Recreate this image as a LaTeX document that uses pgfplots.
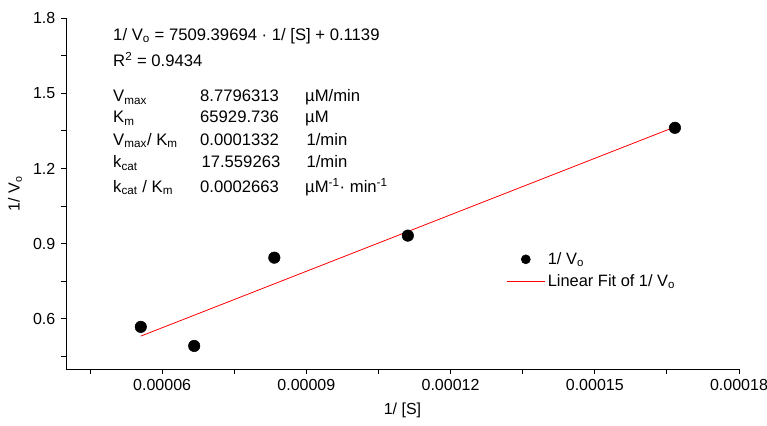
\documentclass[border=0pt]{standalone}
\usepackage{fontspec}
\setmainfont{Liberation Sans}
\usepackage{pgfplots}
\pgfplotsset{compat=1.18}
\tikzset{txt/.style={anchor=base west, inner sep=0pt, font=\fontsize{12.5}{14}\selectfont}}
\begin{document}
\begin{tikzpicture}
\fontsize{12}{14}\selectfont
\begin{axis}[
  scale only axis,
  width=504.75pt, height=263.25pt,
  xmin=0.00004, xmax=0.00018,
  ymin=0.4, ymax=1.8,
  axis lines=left,
  axis line style={-, line width=0.6pt},
  tick align=outside,
  tick style={black, line width=0.6pt},
  major tick length=3.8pt,
  minor tick length=3.8pt,
  scaled x ticks=false,
  scaled y ticks=false,
  /pgf/number format/assume math mode=true,
  xtick={0.00006,0.00009,0.00012,0.00015,0.00018},
  xticklabels={0.00006,0.00009,0.00012,0.00015,0.00018},
  minor xtick={0.000045,0.000075,0.000105,0.000135,0.000165},
  ytick={0.6,0.9,1.2,1.5,1.8},
  yticklabels={0.6,0.9,1.2,1.5,1.8},
  minor ytick={0.45,0.75,1.05,1.35,1.65},
  tick label style={font=\fontsize{12}{14}\selectfont},
  xlabel={1/ [S]},
  ylabel={1/ V\textsubscript{o}},
  label style={font=\fontsize{12}{14}\selectfont},
  xlabel style={at={(rel axis cs:0.5,-0.117)}, anchor=center},
  ylabel style={at={(rel axis cs:-0.0758,0.5)}, anchor=center, rotate=0},
  legend style={draw=none, fill=none, at={(rel axis cs:0.652,0.345)}, anchor=north west,
    font=\fontsize{12.3}{14}\selectfont, row sep=2pt, inner sep=1pt},
  legend cell align=left,
  clip=false,
]
\addplot[only marks, mark=*, mark size=4.3pt, black,
  legend image code/.code={\draw[mark repeat=2,mark phase=2,mark size=3.4pt] plot coordinates {(0pt,0pt)(14.25pt,0pt)(28.5pt,0pt)};}]
  coordinates {
  (0.000055556,0.568)
  (0.000066667,0.492)
  (0.000083333,0.844)
  (0.00011111,0.932)
  (0.00016667,1.362)
  };
\addlegendentry{1/ V\textsubscript{o}}
\addplot[red, line width=0.6pt, no marks,
  legend image code/.code={\draw (0pt,0pt) -- (28.5pt,0pt);}]
  coordinates {
  (0.000055556,0.5311)
  (0.00016667,1.3655)
  };
\addlegendentry{Linear Fit of 1/ V\textsubscript{o}}

\node[txt] at (rel axis cs:0.0698,0.937) {1/ V\textsubscript{o} = 7509.39694 · 1/ [S] + 0.1139};
\node[txt] at (rel axis cs:0.0698,0.863) {R\textsuperscript{2} = 0.9434};

\node[txt] at (rel axis cs:0.0698,0.761) {V\textsubscript{max}};
\node[txt] at (rel axis cs:0.199,0.761) {8.7796313};
\node[txt] at (rel axis cs:0.355,0.761) {µM/min};

\node[txt] at (rel axis cs:0.0698,0.701) {K\textsubscript{m}};
\node[txt] at (rel axis cs:0.199,0.701) {65929.736};
\node[txt] at (rel axis cs:0.355,0.701) {µM};

\node[txt] at (rel axis cs:0.0698,0.638) {V\textsubscript{max}/ K\textsubscript{m}};
\node[txt] at (rel axis cs:0.199,0.638) {0.0001332};
\node[txt] at (rel axis cs:0.357,0.638) {1/min};

\node[txt] at (rel axis cs:0.0698,0.573) {k\textsubscript{cat}};
\node[txt] at (rel axis cs:0.201,0.573) {17.559263};
\node[txt] at (rel axis cs:0.357,0.573) {1/min};

\node[txt] at (rel axis cs:0.0698,0.504) {k\textsubscript{cat} / K\textsubscript{m}};
\node[txt] at (rel axis cs:0.199,0.504) {0.0002663};
\node[txt] at (rel axis cs:0.355,0.504) {µM\textsuperscript{-1}· min\textsuperscript{-1}};

\coordinate (bbll) at (rel axis cs:-0.09807,-0.15954);
\coordinate (bbur) at (rel axis cs:1.04161,1.05128);
\end{axis}
\pgfresetboundingbox
\path (bbll) rectangle (bbur);
\end{tikzpicture}
\end{document}
